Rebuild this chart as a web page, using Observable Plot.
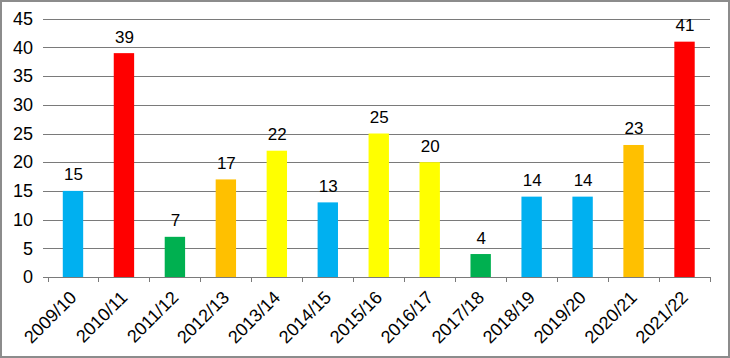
<!DOCTYPE html>
<html>
<head>
<meta charset="utf-8">
<script src="https://cdn.jsdelivr.net/npm/d3@7"></script>
<script src="https://cdn.jsdelivr.net/npm/@observablehq/plot@0.6"></script>
<style>
  html, body { margin: 0; padding: 0; background: #fff; }
  #chart { width: 730px; height: 358px; box-sizing: border-box; border: 2px solid #8c8c8c; overflow: hidden; }
  svg { display: block; }
</style>
</head>
<body>
<div id="chart"></div>
<script>
const seasons = ["2009/10","2010/11","2011/12","2012/13","2013/14","2014/15","2015/16","2016/17","2017/18","2018/19","2019/20","2020/21","2021/22"];
const counts = [15, 39, 7, 17, 22, 13, 25, 20, 4, 14, 14, 23, 41];
const barColors = ["#00B0F0","#FF0000","#00B050","#FFC000","#FFFF00","#00B0F0","#FFFF00","#FFFF00","#00B050","#00B0F0","#00B0F0","#FFC000","#FF0000"];
const yTicks = [0,5,10,15,20,25,30,35,40,45];

const data = seasons.map((s, i) => ({season: s, count: counts[i], color: barColors[i]}));

const W = 726, H = 354;
const ml = 45.5, mr = 18, mt = 16.7, mb = 79;
const step = (W - ml - mr) / seasons.length;

const chart = Plot.plot({
  width: W, height: H,
  marginLeft: ml, marginRight: mr, marginTop: mt, marginBottom: mb,
  style: {fontFamily: "'Liberation Sans', Arial, sans-serif", color: "#000", background: "#fff"},
  x: {domain: seasons, paddingInner: 0.6, paddingOuter: 0.3, round: false, axis: null},
  y: {domain: [0, 45], axis: null},
  marks: [
    Plot.ruleY(yTicks, {stroke: "#7a7a7a", strokeWidth: 1, insetLeft: -5}),
    Plot.axisY(yTicks, {tickSize: 0, tickPadding: 15, fontSize: 18, label: null}),
    Plot.barY(data, {x: "season", y: "count", fill: "color"}),
    Plot.ruleX([0], {frameAnchor: "left", stroke: "#7a7a7a"}),
    Plot.ruleX(seasons, {x: d => d, y1: 0, y2: 0, insetBottom: -5, dx: -step / 2, stroke: "#7a7a7a"}),
    Plot.ruleX(seasons.slice(-1), {x: d => d, y1: 0, y2: 0, insetBottom: -5, dx: step / 2, stroke: "#7a7a7a"}),
    Plot.text(data, {x: "season", y: "count", text: d => String(d.count), lineAnchor: "bottom", dy: -11, fontSize: 17, fill: "#000"}),
    Plot.text(seasons, {x: d => d, y: 0, text: d => d, rotate: -45, textAnchor: "end", lineAnchor: "middle", dx: 0, dy: 17, fontSize: 18, fill: "#000"})
  ]
});
chart.querySelectorAll("line").forEach(l => l.setAttribute("shape-rendering", "crispEdges"));
document.getElementById("chart").appendChild(chart);
</script>
</body>
</html>
